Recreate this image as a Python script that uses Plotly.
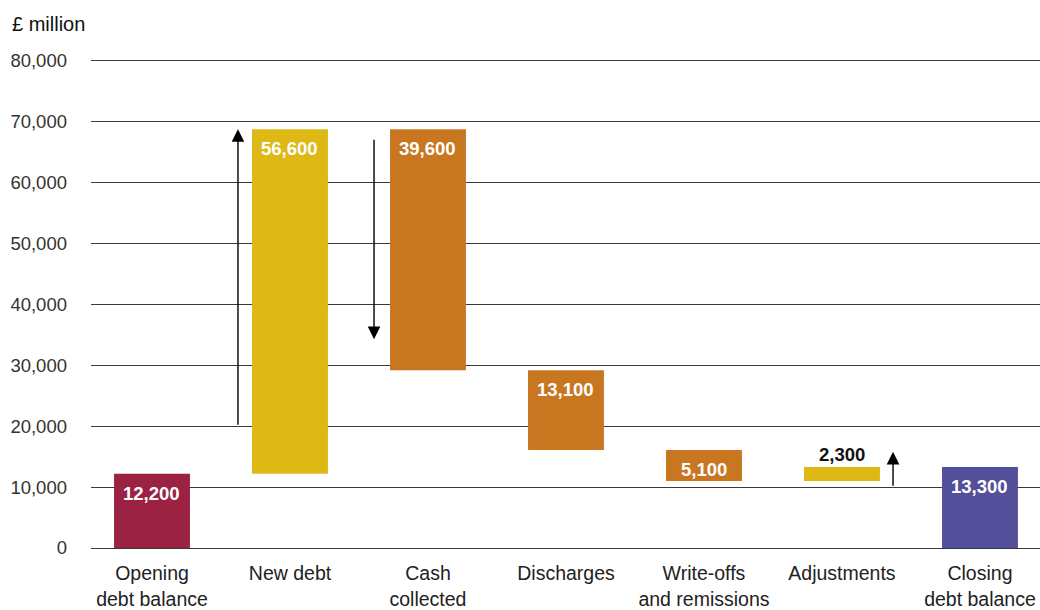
import plotly.graph_objects as go

# Debt movements, £ million
categories = ["Opening<br>debt balance", "New debt", "Cash<br>collected", "Discharges",
              "Write-offs<br>and remissions", "Adjustments", "Closing<br>debt balance"]
opening_balance = 12200
movements = [56600, -39600, -13100, -5100, 2300]
closing_balance = 13300
bar_colors = ["#9B2242", "#DEB815", "#C87720", "#C87720", "#C87720", "#DEB815", "#534F9A"]
label_outside = [False, False, False, False, False, True, False]
y_ticks = [0, 10000, 20000, 30000, 40000, 50000, 60000, 70000, 80000]

# Direction arrows: (x position in category units, tail value, head value)
arrows = [(0.623, 20000, 68800), (1.609, 67300, 34300), (5.37, 10000, 15800)]

# Build floating bar bases and heights from the running balance
bases, heights, labels = [0], [opening_balance], [opening_balance]
running = opening_balance
for m in movements:
    lo = min(running, running + m)
    bases.append(lo)
    heights.append(abs(m))
    labels.append(abs(m))
    running += m
bases.append(0)
heights.append(closing_balance)
labels.append(closing_balance)

xs = list(range(len(categories)))
font_family = "Liberation Sans, Arial, sans-serif"

fig = go.Figure()
fig.add_trace(go.Bar(
    x=xs, y=heights, base=bases, width=0.55,
    marker=dict(color=bar_colors, line=dict(width=0)),
    hoverinfo="skip", showlegend=False,
))

annotations = []
for i, (b, h, v, out) in enumerate(zip(bases, heights, labels, label_outside)):
    annotations.append(dict(
        x=i, y=b + h, xref="x", yref="y", text=f"<b>{v:,}</b>", showarrow=False,
        yanchor="bottom" if out else "top", yshift=0 if out else -7,
        font=dict(family=font_family, size=18.5, color="#111111" if out else "#FFFFFF"),
    ))

for ax_x, tail, head in arrows:
    annotations.append(dict(
        x=ax_x, y=head, ax=ax_x, ay=tail, xref="x", yref="y", axref="x", ayref="y",
        text="", showarrow=True, arrowhead=2, arrowsize=1.8, arrowwidth=1.4,
        arrowcolor="#000000", standoff=0, startstandoff=0,
    ))

# Unit heading above the value axis
annotations.append(dict(
    x=-81 / 949, y=1 + (61 - 24) / 487, xref="paper", yref="paper",
    text="£ million", showarrow=False, xanchor="left", yanchor="middle",
    font=dict(family=font_family, size=20, color="#111111"),
))

fig.update_layout(
    width=1040, height=610,
    margin=dict(l=91, r=0, t=61, b=62, autoexpand=False),
    paper_bgcolor="white", plot_bgcolor="white",
    font=dict(family=font_family, size=18, color="#333333"),
    annotations=annotations,
    xaxis=dict(
        range=[-0.442, 6.435], tickmode="array", tickvals=xs, ticktext=categories,
        showgrid=False, zeroline=False, ticks="", automargin=False,
        showline=True, mirror=True, linecolor="#3a3a3a", linewidth=1,
        ticklabelstandoff=8,
        tickfont=dict(family=font_family, size=19.5, color="#222222"),
    ),
    yaxis=dict(
        range=[0, 80000], tickmode="array", tickvals=y_ticks,
        ticktext=[f"{t:,}" for t in y_ticks], automargin=False,
        showgrid=True, gridcolor="#3a3a3a", gridwidth=1,
        zeroline=False, showline=False, ticks="", ticklabelstandoff=23,
        tickfont=dict(family=font_family, size=18.5, color="#333333"),
    ),
)

fig.write_html("out.html")
